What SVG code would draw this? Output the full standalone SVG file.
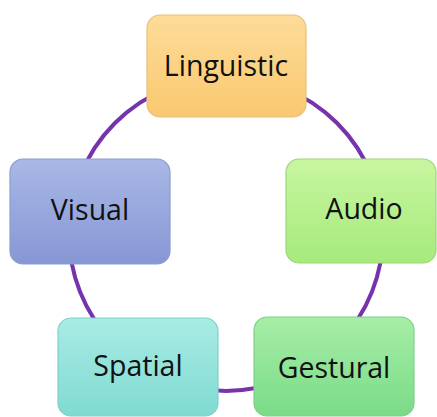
<svg xmlns="http://www.w3.org/2000/svg" width="437" height="417" viewBox="0 0 437 417">
  <defs>
    <linearGradient id="gOrange" x1="0" y1="0" x2="0" y2="1">
      <stop offset="0" stop-color="#FDDC98"/>
      <stop offset="1" stop-color="#FAC870"/>
    </linearGradient>
    <linearGradient id="gBlue" x1="0" y1="0" x2="0" y2="1">
      <stop offset="0" stop-color="#A9B8E6"/>
      <stop offset="1" stop-color="#8797D4"/>
    </linearGradient>
    <linearGradient id="gLime" x1="0" y1="0" x2="0" y2="1">
      <stop offset="0" stop-color="#C8F6A0"/>
      <stop offset="1" stop-color="#A6EA7C"/>
    </linearGradient>
    <linearGradient id="gTeal" x1="0" y1="0" x2="0" y2="1">
      <stop offset="0" stop-color="#A8ECE5"/>
      <stop offset="1" stop-color="#80DAD1"/>
    </linearGradient>
    <linearGradient id="gGreen" x1="0" y1="0" x2="0" y2="1">
      <stop offset="0" stop-color="#A6EEA6"/>
      <stop offset="1" stop-color="#7ADB88"/>
    </linearGradient>
  </defs>
  <style>
    .box { stroke-width: 1.2; }
    .label { font-family: "Open Sans", "Noto Sans", sans-serif; font-size: 28.5px; font-weight: 500; fill: #111111; text-anchor: middle; }
    .ring { fill: none; stroke: #7633AC; stroke-width: 4; }
  </style>
  <rect width="437" height="417" fill="#ffffff"/>

  <!-- connecting ring behind the nodes -->
  <g id="connectors">
    <circle class="ring" cx="226" cy="234" r="157"/>
  </g>

  <g id="linguistic">
    <rect class="box" x="147" y="15" width="159" height="102" rx="13" fill="url(#gOrange)" stroke="#E6C07C"/>
    <text class="label" x="226" y="76">Linguistic</text>
  </g>

  <g id="visual">
    <rect class="box" x="10" y="159" width="160" height="105" rx="13" fill="url(#gBlue)" stroke="#8C9BCF"/>
    <text class="label" x="90" y="220">Visual</text>
  </g>

  <g id="audio">
    <rect class="box" x="286" y="159" width="150" height="104" rx="13" fill="url(#gLime)" stroke="#9CD67E"/>
    <text class="label" x="364" y="219">Audio</text>
  </g>

  <g id="spatial">
    <rect class="box" x="58" y="318" width="160" height="98" rx="13" fill="url(#gTeal)" stroke="#82CFC7"/>
    <text class="label" x="138" y="376">Spatial</text>
  </g>

  <g id="gestural">
    <rect class="box" x="254" y="317" width="160" height="99" rx="13" fill="url(#gGreen)" stroke="#7FCF8A"/>
    <text class="label" x="334" y="378">Gestural</text>
  </g>
</svg>
